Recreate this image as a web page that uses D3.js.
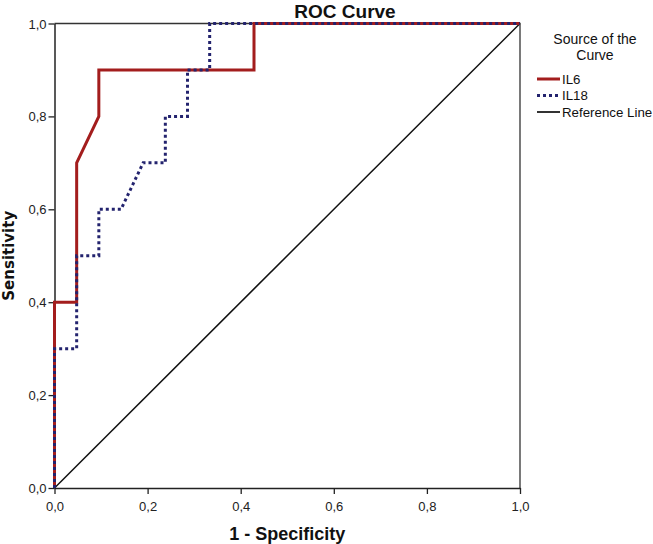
<!DOCTYPE html>
<html><head><meta charset="utf-8">
<script src="https://cdn.jsdelivr.net/npm/d3@7"></script>
<style>html,body{margin:0;padding:0;background:#fff;}svg{display:block;}</style>
</head><body>
<svg id="c" width="653" height="544"></svg>
<script>
// Data (1 - Specificity, Sensitivity)
const il6X  = [0, 0,   1/21, 1/21, 2/21, 2/21, 9/21, 9/21, 1];
const il6Y  = [0, 0.4, 0.4,  0.7,  0.8,  0.9,  0.9,  1.0,  1];
const il18X = [0, 0,   1/21, 1/21, 2/21, 2/21, 3/21, 4/21, 5/21, 5/21, 6/21, 6/21, 7/21, 7/21, 1];
const il18Y = [0, 0.3, 0.3,  0.5,  0.5,  0.6,  0.6,  0.7,  0.7,  0.8,  0.8,  0.9,  0.9,  1.0,  1];
const refX = [0, 1];
const refY = [0, 1];
const tickValues = [0, 0.2, 0.4, 0.6, 0.8, 1.0];
const seriesNames = ["IL6", "IL18", "Reference Line"];

const svg = d3.select("#c");
const L = 54.5, R = 520, T = 23.5, B = 488;
const x = d3.scaleLinear().domain([0, 1]).range([L, R]);
const y = d3.scaleLinear().domain([0, 1]).range([B, T]);
const fmt = d => d3.format(".1f")(d).replace(".", ",");
const font = "'Liberation Sans', Arial, sans-serif";

// frame top/right
svg.append("path").attr("d", `M${L},${T}H${R}V${B}`).attr("fill","none").attr("stroke","#333").attr("stroke-width",1.3);

const xa = svg.append("g").attr("transform", `translate(0,${B})`)
  .call(d3.axisBottom(x).tickValues(tickValues).tickFormat(fmt).tickSize(6).tickSizeOuter(0));
const ya = svg.append("g").attr("transform", `translate(${L},0)`)
  .call(d3.axisLeft(y).tickValues(tickValues).tickFormat(fmt).tickSize(6).tickSizeOuter(0));
[xa, ya].forEach(a => {
  a.select(".domain").attr("stroke","#222").attr("stroke-width",1.5);
  a.selectAll(".tick line").attr("stroke","#222").attr("stroke-width",1.3);
  a.selectAll("text").attr("font-family", font).attr("font-size", 13).attr("fill","#222");
});
xa.selectAll("text").attr("dy","1.05em");
ya.selectAll("text").attr("dx","1").attr("dy","0.35em");

const line = d3.line();
const toPts = (xs, ys) => xs.map((v, i) => [x(v), y(ys[i])]);

// reference line
svg.append("path").attr("d", line(toPts(refX, refY))).attr("fill","none").attr("stroke","#111").attr("stroke-width",1.5);
// IL6
svg.append("path").attr("d", line(toPts(il6X, il6Y))).attr("fill","none").attr("stroke","#a31d1d").attr("stroke-width",3);
// IL18 (drawn on top)
svg.append("path").attr("d", line(toPts(il18X, il18Y))).attr("fill","none").attr("stroke","#23236e").attr("stroke-width",3).attr("stroke-dasharray","3,3");

// Title
svg.append("text").attr("x", 345).attr("y", 17.5).attr("text-anchor","middle")
  .attr("font-family", font).attr("font-weight","bold").attr("font-size",19).attr("fill","#111").text("ROC Curve");
// Axis titles
svg.append("text").attr("x", (L+R)/2).attr("y", 540).attr("text-anchor","middle")
  .attr("font-family", "'Liberation Sans Narrow', 'Liberation Sans', Arial, sans-serif").attr("font-weight","bold").attr("font-size",18).attr("fill","#111").text("1 - Specificity");
svg.append("text").attr("transform", `translate(14,${(T+B)/2}) rotate(-90)`).attr("text-anchor","middle")
  .attr("font-family", "'DejaVu Sans', sans-serif").attr("font-weight","bold").attr("font-size",15).attr("fill","#111").text("Sensitivity");

// Legend
const lg = svg.append("g");
lg.append("text").attr("x",595).attr("y",44).attr("text-anchor","middle").attr("font-family",font).attr("font-size",14).attr("fill","#111").text("Source of the");
lg.append("text").attr("x",595).attr("y",60).attr("text-anchor","middle").attr("font-family",font).attr("font-size",14).attr("fill","#111").text("Curve");
const legStyles = [
  {stroke:"#a31d1d", w:3, dash:null},
  {stroke:"#23236e", w:3, dash:"3,3"},
  {stroke:"#333", w:2, dash:null}
];
seriesNames.forEach((n, i) => {
  const yy = 79 + i*16.5;
  lg.append("line").attr("x1",537).attr("x2",560).attr("y1",yy).attr("y2",yy)
    .attr("stroke",legStyles[i].stroke).attr("stroke-width",legStyles[i].w).attr("stroke-dasharray",legStyles[i].dash);
  lg.append("text").attr("x",562).attr("y",yy).attr("dy","0.35em").attr("font-family",font).attr("font-size",13.3).attr("fill","#111").text(n);
});
</script>
</body></html>
